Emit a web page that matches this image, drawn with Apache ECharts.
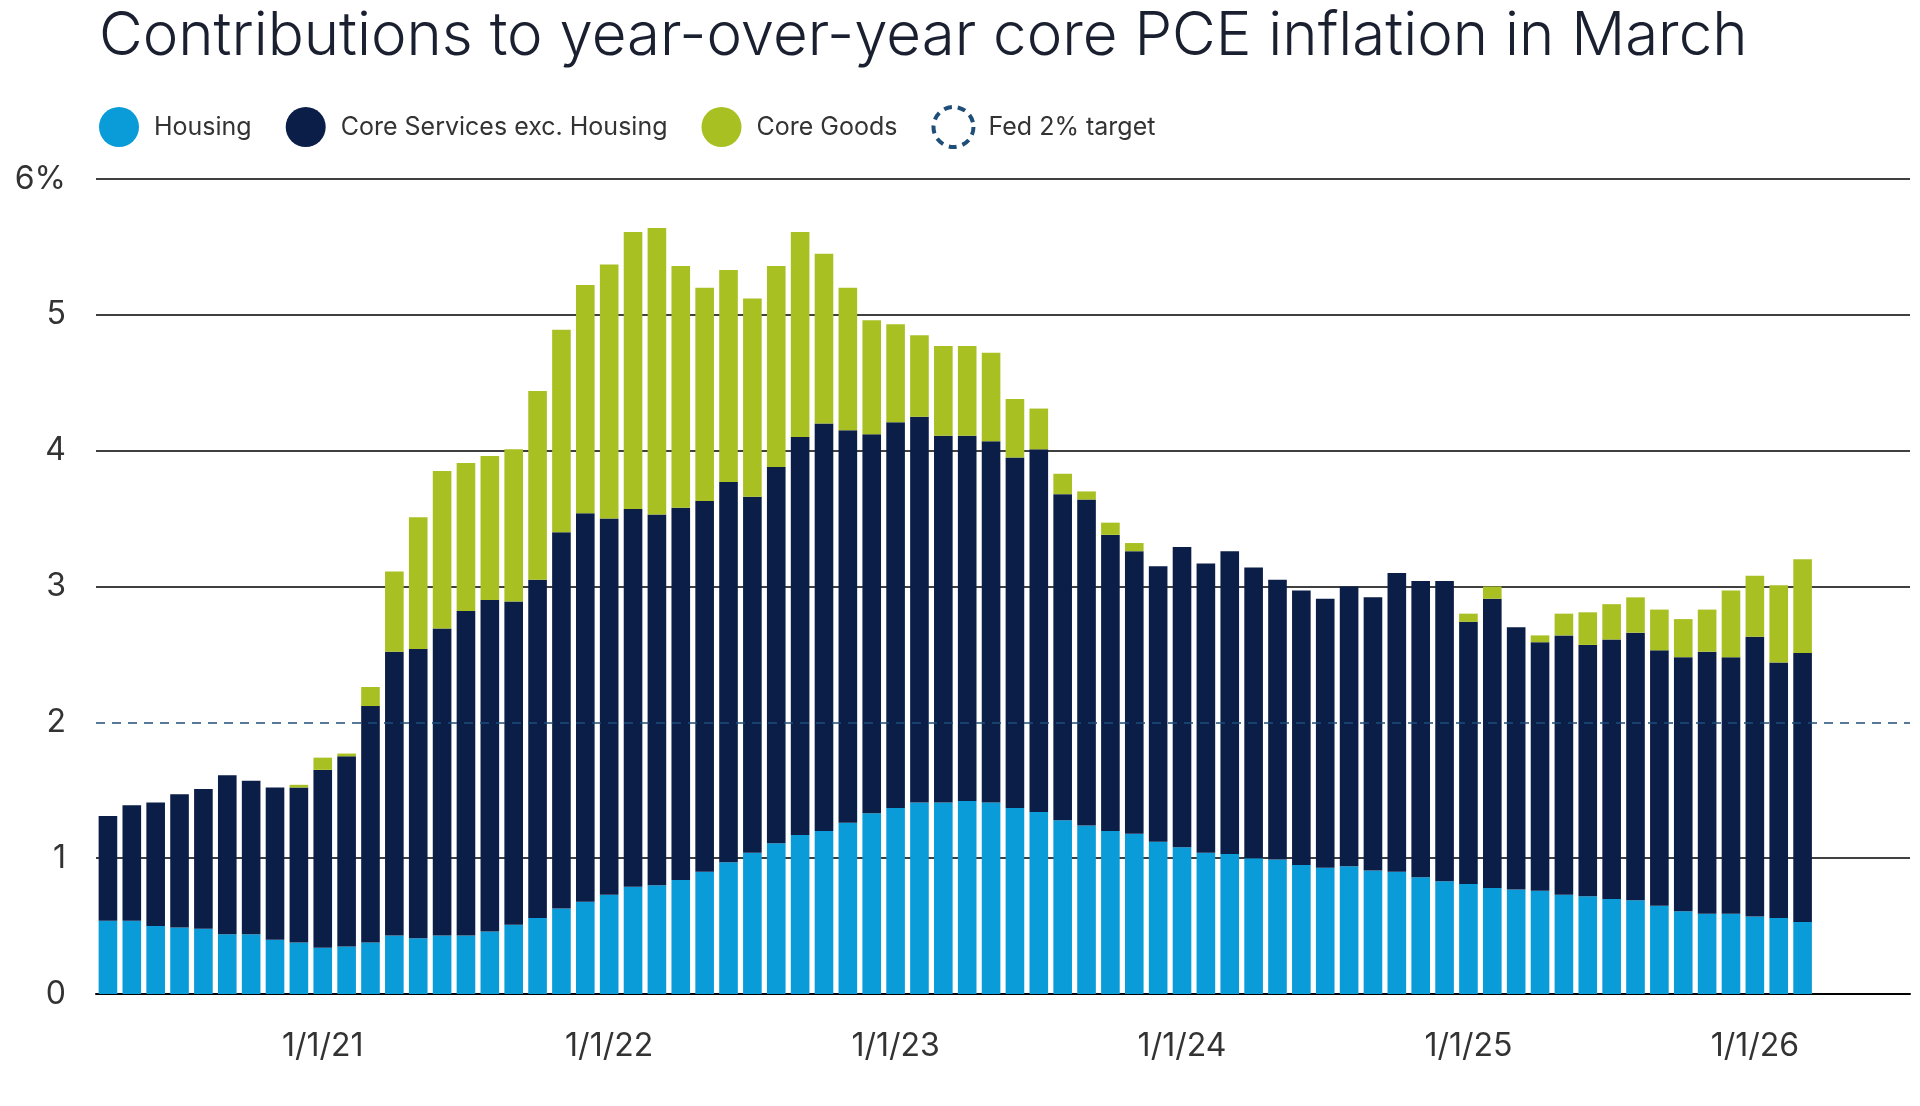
<!DOCTYPE html>
<html>
<head>
<meta charset="utf-8">
<script src="https://cdn.jsdelivr.net/npm/echarts@6/dist/echarts.min.js"></script>
<style>
  html, body { margin: 0; padding: 0; background: #fff; }
  #chart { width: 1920px; height: 1106px; }
</style>
</head>
<body>
<div id="chart"></div>
<script>
// monthly categories Apr 2020 .. Mar 2026 (plus 4 empty slots to the axis end)
const months = [];
for (let y = 2020; y <= 2026; y++) {
  for (let m = 1; m <= 12; m++) {
    if (y === 2020 && m < 4) continue;
    if (y === 2026 && m > 7) continue;
    months.push(y + '-' + (m < 10 ? '0' + m : m));
  }
}

// contributions, percentage points
const housing = [0.54,0.54,0.50,0.49,0.48,0.44,0.44,0.40,0.38,0.34,0.35,0.38,
  0.43,0.41,0.43,0.43,0.46,0.51,0.56,0.63,0.68,0.73,0.79,0.80,
  0.84,0.90,0.97,1.04,1.11,1.17,1.20,1.26,1.33,1.37,1.41,1.41,
  1.42,1.41,1.37,1.34,1.28,1.24,1.20,1.18,1.12,1.08,1.04,1.03,
  1.00,0.99,0.95,0.93,0.94,0.91,0.90,0.86,0.83,0.81,0.78,0.77,
  0.76,0.73,0.72,0.70,0.69,0.65,0.61,0.59,0.59,0.57,0.56,0.53];
const coreServices = [0.77,0.85,0.91,0.98,1.03,1.17,1.13,1.12,1.14,1.31,1.40,1.74,
  2.09,2.13,2.26,2.39,2.44,2.38,2.49,2.77,2.86,2.77,2.78,2.73,
  2.74,2.73,2.80,2.62,2.77,2.93,3.00,2.89,2.79,2.84,2.84,2.70,
  2.69,2.66,2.58,2.67,2.40,2.40,2.18,2.08,2.03,2.21,2.13,2.23,
  2.14,2.06,2.02,1.98,2.06,2.01,2.20,2.18,2.21,1.93,2.13,1.93,
  1.83,1.91,1.85,1.91,1.97,1.88,1.87,1.93,1.89,2.06,1.88,1.98];
const coreGoods = [-0.30,-0.37,-0.41,-0.22,-0.10,-0.10,-0.11,-0.04,0.02,0.09,0.02,0.14,
  0.59,0.97,1.16,1.09,1.06,1.12,1.39,1.49,1.68,1.87,2.04,2.11,
  1.78,1.57,1.56,1.46,1.48,1.51,1.25,1.05,0.84,0.72,0.60,0.66,
  0.66,0.65,0.43,0.30,0.15,0.06,0.09,0.06,0.00,-0.13,-0.10,-0.13,
  -0.13,-0.26,-0.19,-0.10,-0.12,-0.08,-0.11,-0.05,-0.05,0.06,0.09,0.00,
  0.05,0.16,0.24,0.26,0.26,0.30,0.28,0.31,0.49,0.45,0.57,0.69];
const yTicks = [0, 1, 2, 3, 4, 5, 6];
const fedTarget = 2;

const FONT = 'Inter, "Noto Sans", sans-serif';
const chart = echarts.init(document.getElementById('chart'));

function barSeries(name, data, color) {
  return {
    name: name, type: 'bar', stack: 'pce', data: data,
    barCategoryGap: '22%', itemStyle: { color: color }, silent: true
  };
}

chart.setOption({
  animation: false,
  textStyle: { fontFamily: FONT },
  title: {
    text: 'Contributions to year-over-year core PCE inflation in March',
    left: 94, top: 2,
    textStyle: { fontSize: 60, fontWeight: 300, color: '#1a2030', fontFamily: FONT }
  },
  legend: {
    left: 94, top: 100, itemWidth: 40, itemHeight: 40, itemGap: 34,
    textStyle: { fontSize: 25, color: '#333', padding: [0, 0, 0, 10] },
    data: [
      { name: 'Housing', icon: 'circle' },
      { name: 'Core Services exc. Housing', icon: 'circle' },
      { name: 'Core Goods', icon: 'circle' },
      { name: 'Fed 2% target', icon: 'circle',
        itemStyle: { color: 'transparent', borderColor: '#1f4e79', borderWidth: 4, borderType: [8, 6] } }
    ]
  },
  grid: { left: 96, right: 10, top: 179, bottom: 112 },
  xAxis: {
    type: 'category', data: months,
    axisLine: { lineStyle: { color: '#000', width: 2 } },
    axisTick: { alignWithLabel: true, length: 18, lineStyle: { color: '#000', width: 2 },
      interval: (i, v) => v.endsWith('-01') },
    axisLabel: {
      fontSize: 32, color: '#333', margin: 36,
      interval: (i, v) => v.endsWith('-01'),
      formatter: v => '1/1/' + v.slice(2, 4)
    }
  },
  yAxis: {
    type: 'value', min: yTicks[0], max: yTicks[yTicks.length - 1], interval: 1,
    axisLine: { show: false }, axisTick: { show: false },
    axisLabel: { fontSize: 32, color: '#333', margin: 30,
      formatter: v => v === 6 ? '6%' : String(v) },
    splitLine: { lineStyle: { color: ['#000', '#000', 'transparent', '#000', '#000', '#000', '#000'], width: 1.5 } }
  },
  series: [
    barSeries('Housing', housing, '#0a9cd8'),
    barSeries('Core Services exc. Housing', coreServices, '#0b1e48'),
    barSeries('Core Goods', coreGoods, '#a9c023'),
    {
      name: 'Fed 2% target', type: 'line', data: [], silent: true,
      itemStyle: { color: '#1f4e79' },
      markLine: {
        symbol: 'none', silent: true, label: { show: false },
        lineStyle: { color: '#1f4e79', type: [9, 7], width: 1.5 },
        data: [{ yAxis: fedTarget }]
      }
    }
  ]
});
</script>
</body>
</html>
